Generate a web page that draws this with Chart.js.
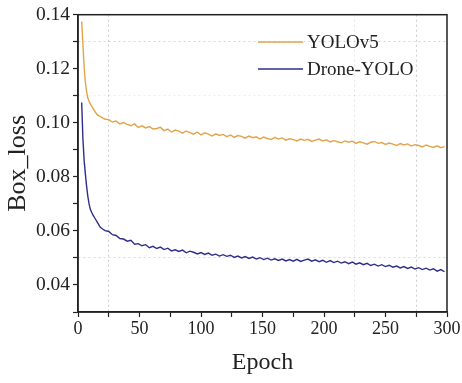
<!DOCTYPE html>
<html>
<head>
<meta charset="utf-8">
<script src="https://cdn.jsdelivr.net/npm/chart.js@4"></script>
<style>
  html, body { margin: 0; padding: 0; background: #fff; }
  #wrap { width: 462px; height: 383px; }
</style>
</head>
<body>
<div id="wrap"><canvas id="lossChart"></canvas></div>
<script>
const epochs = [3, 4, 5, 6, 7, 8, 9, 10, 12, 14, 16, 18, 20, 22,
  25, 28, 31, 34, 37, 40, 43, 46, 49, 52, 55, 58, 61, 64, 67, 70, 73, 76, 79, 82, 85, 88, 91, 94, 97,
  100, 103, 106, 109, 112, 115, 118, 121, 124, 127, 130, 133, 136, 139, 142, 145, 148, 151, 154, 157,
  160, 163, 166, 169, 172, 175, 178, 181, 184, 187, 190, 193, 196, 199, 202, 205, 208, 211, 214, 217,
  220, 223, 226, 229, 232, 235, 238, 241, 244, 247, 250, 253, 256, 259, 262, 265, 268, 271, 274, 277,
  280, 283, 286, 289, 292, 295, 298];

const yolov5Loss = [0.1375, 0.1290, 0.1205, 0.1150, 0.1115, 0.1092, 0.1080, 0.1070, 0.1055, 0.1040, 0.1028, 0.1024, 0.1018, 0.1013,
  0.1012, 0.1003, 0.1007, 0.0996, 0.1001, 0.0994, 0.0989, 0.0996, 0.0983, 0.0989, 0.0981, 0.0986, 0.0977, 0.0979, 0.0983,
  0.0971, 0.0977, 0.0966, 0.0973, 0.0969, 0.0962, 0.0970, 0.0964, 0.0958, 0.0966,
  0.0955, 0.0963, 0.0958, 0.0951, 0.0959, 0.0953, 0.0957, 0.0949, 0.0955, 0.0946, 0.0953, 0.0950, 0.0943, 0.0951,
  0.0945, 0.0948, 0.0940, 0.0947, 0.0942, 0.0938,
  0.0946, 0.0940, 0.0944, 0.0936, 0.0941, 0.0938, 0.0933, 0.0940, 0.0935, 0.0939, 0.0931, 0.0936, 0.0940, 0.0933,
  0.0937, 0.0929, 0.0934, 0.0930, 0.0926, 0.0933,
  0.0928, 0.0932, 0.0924, 0.0930, 0.0926, 0.0921, 0.0928, 0.0931, 0.0924, 0.0927, 0.0920, 0.0925, 0.0921, 0.0916,
  0.0923, 0.0918, 0.0922, 0.0914, 0.0919, 0.0916,
  0.0911, 0.0918, 0.0913, 0.0909, 0.0915, 0.0908, 0.0912];

const droneYoloLoss = [0.1075, 0.0940, 0.0860, 0.0810, 0.0765, 0.0728, 0.0700, 0.0680, 0.0660, 0.0645, 0.0630, 0.0614, 0.0607, 0.0601,
  0.0598, 0.0586, 0.0583, 0.0572, 0.0570, 0.0562, 0.0565, 0.0551, 0.0553, 0.0545, 0.0549, 0.0538, 0.0543, 0.0535, 0.0540,
  0.0531, 0.0536, 0.0526, 0.0530, 0.0524, 0.0529, 0.0519, 0.0525, 0.0521, 0.0515,
  0.0520, 0.0513, 0.0518, 0.0510, 0.0514, 0.0507, 0.0512, 0.0506, 0.0510, 0.0502, 0.0507, 0.0500, 0.0505, 0.0498,
  0.0503, 0.0496, 0.0501, 0.0494, 0.0499, 0.0492,
  0.0497, 0.0491, 0.0496, 0.0489, 0.0494, 0.0488, 0.0495, 0.0487, 0.0492, 0.0496, 0.0488, 0.0493, 0.0486, 0.0491,
  0.0484, 0.0490, 0.0483, 0.0488, 0.0481, 0.0486,
  0.0479, 0.0485, 0.0477, 0.0482, 0.0475, 0.0480, 0.0472, 0.0477, 0.0470, 0.0475, 0.0468, 0.0473, 0.0466, 0.0470,
  0.0463, 0.0468, 0.0461, 0.0466, 0.0459, 0.0464,
  0.0457, 0.0462, 0.0455, 0.0460, 0.0451, 0.0457, 0.0449];

const seriesNames = ['YOLOv5', 'Drone-YOLO'];
const seriesColors = ['#e2a447', '#2b2f8c'];
const xGridAt = { 25: 'rgba(0,0,0,0.2)', 225: 'rgba(0,0,0,0.1)', 275: 'rgba(0,0,0,0.2)' };
const yGridAt = { 5: 'rgba(0,0,0,0.14)', 11: 'rgba(0,0,0,0.07)', 13: 'rgba(0,0,0,0.16)' };

const serif = "'Liberation Serif', 'Times New Roman', serif";
const toPoints = vals => epochs.map((e, i) => ({ x: e, y: vals[i] }));

// box frame + legend inside the plot, Origin style
const framePlugin = {
  id: 'frame',
  afterDraw(chart) {
    const { ctx, chartArea: a } = chart;
    ctx.save();
    ctx.strokeStyle = '#222';
    ctx.lineWidth = 1.5;
    ctx.strokeRect(a.left, a.top, a.right - a.left, a.bottom - a.top);
    ctx.font = '19px ' + serif;
    ctx.textBaseline = 'middle';
    chart.data.datasets.forEach((ds, i) => {
      const y = 42 + i * 27;
      ctx.strokeStyle = ds.borderColor;
      ctx.lineWidth = 1.4;
      ctx.beginPath();
      ctx.moveTo(258, y);
      ctx.lineTo(303, y);
      ctx.stroke();
      ctx.fillStyle = '#222';
      ctx.fillText(ds.label, 307, y + 1);
    });
    ctx.restore();
  }
};

new Chart(document.getElementById('lossChart'), {
  type: 'line',
  data: {
    datasets: [
      { label: seriesNames[0], data: toPoints(yolov5Loss), borderColor: seriesColors[0] },
      { label: seriesNames[1], data: toPoints(droneYoloLoss), borderColor: seriesColors[1] }
    ]
  },
  options: {
    responsive: true,
    maintainAspectRatio: false,
    animation: false,
    layout: { padding: { top: 14, right: 15, left: 0, bottom: 0 } },
    elements: {
      point: { radius: 0 },
      line: { borderWidth: 1.4, tension: 0 }
    },
    plugins: { legend: { display: false }, tooltip: { enabled: false } },
    scales: {
      x: {
        type: 'linear',
        min: 0, max: 300,
        afterFit: s => { s.height = 71; },
        ticks: {
          stepSize: 25,
          maxRotation: 0,
          autoSkip: false,
          color: '#222',
          font: { family: serif, size: 18 },
          padding: 1,
          callback: v => (v % 50 === 0 ? String(v) : '')
        },
        grid: {
          drawOnChartArea: true,
          color: c => (c.tick && xGridAt[c.tick.value]) || 'rgba(0,0,0,0)',
          tickColor: '#222',
          tickLength: 5,
          tickWidth: 1.2
        },
        border: { color: '#222', width: 1.5, dash: [2, 3] },
        title: {
          display: true,
          text: 'Epoch',
          color: '#222',
          font: { family: serif, size: 24 },
          padding: { top: 2, bottom: 6 }
        }
      },
      y: {
        min: 0.03, max: 0.14,
        afterFit: s => { s.width = 78; },
        ticks: {
          stepSize: 0.01,
          autoSkip: false,
          color: '#222',
          font: { family: serif, size: 19.5 },
          padding: 3,
          callback: v => {
            const k = Math.round(v * 100);
            return k % 2 === 0 ? (k / 100).toFixed(2) : '';
          }
        },
        grid: {
          drawOnChartArea: true,
          color: c => (c.tick && yGridAt[Math.round(c.tick.value * 100)]) || 'rgba(0,0,0,0)',
          tickColor: '#222',
          tickLength: 5,
          tickWidth: 1.2
        },
        border: { color: '#222', width: 1.5, dash: [2, 3] },
        title: {
          display: true,
          text: 'Box_loss',
          color: '#222',
          font: { family: serif, size: 26 },
          padding: { top: 3, bottom: 0 }
        }
      }
    }
  },
  plugins: [framePlugin]
});
</script>
</body>
</html>
